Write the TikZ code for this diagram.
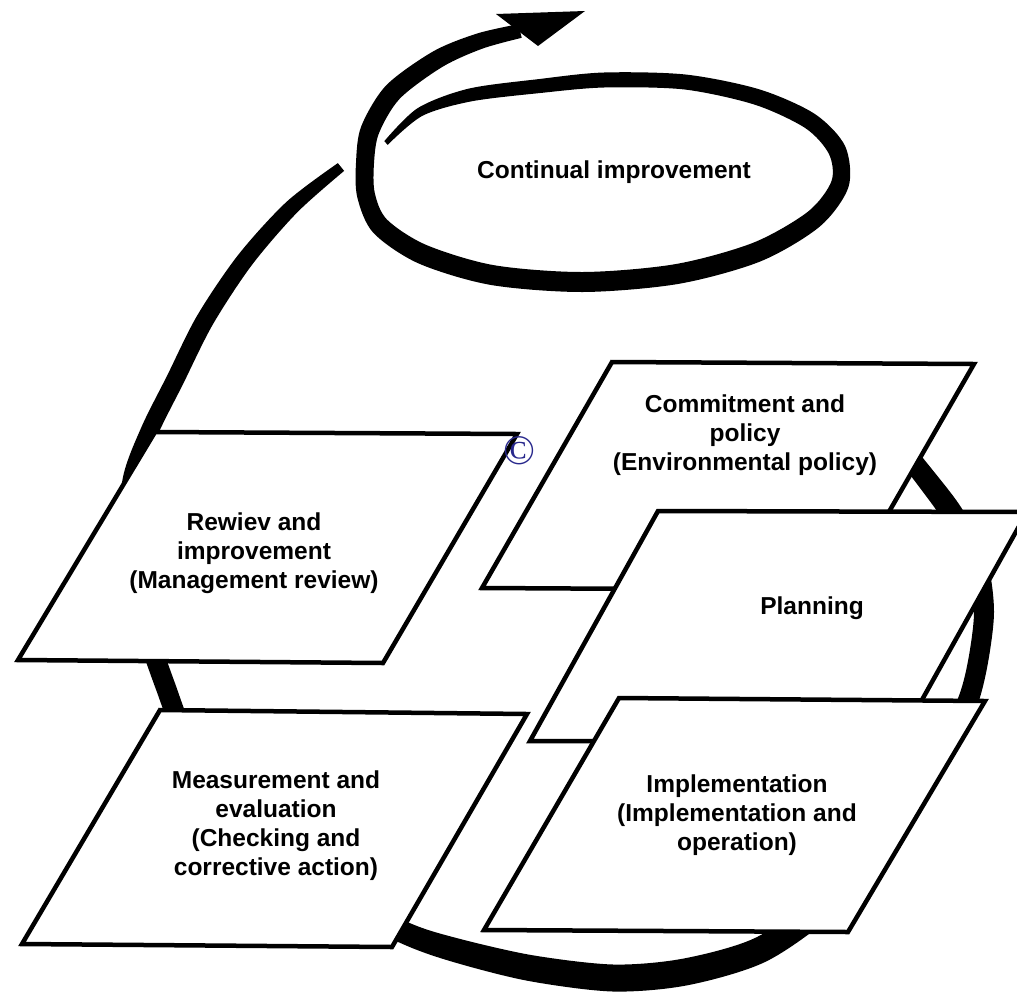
\documentclass[tikz,border=0pt]{standalone}
\usepackage{fontspec}
\setmainfont{Liberation Sans}
\newfontfamily\copyfont{Liberation Serif}
\usetikzlibrary{calc}
\definecolor{copyblue}{RGB}{40,40,140}
\tikzset{
  panel/.style={draw=black, fill=white, line width=4.5pt, line join=miter},
  boxtext/.style={font=\bfseries\fontsize{24.5}{29}\selectfont, align=center, inner sep=0pt},
  ribbon/.style={fill=black},
}
% offset points on both sides of a centre line: name, previous, this, next, half width
\newcommand\ribbonpt[5]{%
  \coordinate (ribtmp) at ($(#2)!#5!90:(#4)$);
  \coordinate (#1a) at ($(#3)+(ribtmp)-(#2)$);
  \coordinate (ribtmp) at ($(#2)!#5!-90:(#4)$);
  \coordinate (#1b) at ($(#3)+(ribtmp)-(#2)$);
}
\begin{document}
\begin{tikzpicture}[x=1pt,y=-1pt]
\useasboundingbox (0,0) rectangle (1017,991);
\clip (0,0) rectangle (1017,991);

% ---- big cycle band (behind the panels)
\foreach \i/\x/\y in {1/870/400,2/908/455,3/951/512,4/976/560,5/984/612,6/976/672,
  7/962/715,8/925/775,9/875/848,10/825/905,11/760/950,12/685/972,13/613/978,
  14/530/968,15/455/950,16/405/933,17/330/895,18/250/825,19/190/745,20/165/685,
  21/140/610,22/127/540,23/132/478,24/150/430,25/175/380,26/205/320,27/245/260,
  28/292/207,29/341/167}
  \coordinate (p\i) at (\x,\y);
\foreach \i/\p/\n/\w in {1/1/2/9,2/1/3/10,3/2/4/11,4/3/5/10.5,5/4/6/10,6/5/7/10,
  7/6/8/10.5,8/7/9/11,9/8/10/12,10/9/11/12.5,11/10/12/13,12/11/13/13.5,13/12/14/13.5,
  14/13/15/13,15/14/16/12,16/15/17/11,17/16/18/11,18/17/19/10,19/18/20/10,20/19/21/10,
  21/20/22/10,22/21/23/9.5,23/22/24/9,24/23/25/9,25/24/26/9,26/25/27/9,27/26/28/8.5,
  28/27/29/7.5,29/28/29/5}
  {\ribbonpt{p\i}{p\p}{p\i}{p\n}{\w pt}}
\fill[ribbon] plot[smooth] coordinates {(p1a)(p2a)(p3a)(p4a)(p5a)(p6a)(p7a)(p8a)(p9a)(p10a)
  (p11a)(p12a)(p13a)(p14a)(p15a)(p16a)(p17a)(p18a)(p19a)(p20a)(p21a)(p22a)(p23a)(p24a)
  (p25a)(p26a)(p27a)(p28a)(p29a)}
  -- plot[smooth] coordinates {(p29b)(p28b)(p27b)(p26b)(p25b)(p24b)(p23b)(p22b)(p21b)
  (p20b)(p19b)(p18b)(p17b)(p16b)(p15b)(p14b)(p13b)(p12b)(p11b)(p10b)(p9b)(p8b)(p7b)
  (p6b)(p5b)(p4b)(p3b)(p2b)(p1b)} -- cycle;

% ---- upper spiral: ellipse turning into the arrow
\foreach \i/\x/\y in {1/386/143,2/420/112,3/470/95,4/540/86,5/604/80,6/685/82,
  7/757/97,8/810/121,9/837/150,10/840/184,11/814/219,12/757/252,13/677/274,
  14/583/282,15/492/275,16/422/254,17/380/226,18/366/195,19/365/163,20/370/130,
  21/393/92,22/438/59,23/480/41,24/520/31}
  \coordinate (q\i) at (\x,\y);
\foreach \i/\p/\n/\w in {1/1/2/2.5,2/1/3/4.5,3/2/4/6.5,4/3/5/7,5/4/6/7.5,6/5/7/7.5,
  7/6/8/8,8/7/9/8.5,9/8/10/9,10/9/11/9,11/10/12/9.5,12/11/13/10,13/12/14/10,
  14/13/15/10,15/14/16/10,16/15/17/10,17/16/18/9.5,18/17/19/9,19/18/20/9,
  20/19/21/9.5,21/20/22/9.5,22/21/23/9,23/22/24/8,24/23/24/7}
  {\ribbonpt{q\i}{q\p}{q\i}{q\n}{\w pt}}
\fill[ribbon] plot[smooth] coordinates {(q1a)(q2a)(q3a)(q4a)(q5a)(q6a)(q7a)(q8a)(q9a)(q10a)
  (q11a)(q12a)(q13a)(q14a)(q15a)(q16a)(q17a)(q18a)(q19a)(q20a)(q21a)(q22a)(q23a)(q24a)}
  -- plot[smooth] coordinates {(q24b)(q23b)(q22b)(q21b)(q20b)(q19b)(q18b)(q17b)(q16b)(q15b)
  (q14b)(q13b)(q12b)(q11b)(q10b)(q9b)(q8b)(q7b)(q6b)(q5b)(q4b)(q3b)(q2b)(q1b)} -- cycle;
% arrow head
\coordinate (headA) at (496,14);
\coordinate (headTip) at (585,11);
\coordinate (headB) at (538,46);
\fill[ribbon] (headA) -- (headTip) -- (headB) -- cycle;

\node[boxtext] (cont) at (614,172) {Continual improvement};

% ---- panels
\draw[panel] (612,362) -- (974,364) -- (844,590) -- (482,588) -- cycle;
\draw[panel] (658,511) -- (1027,512) -- (899,741) -- (530,741) -- cycle;
\draw[panel] (619,698) -- (985,701) -- (848,932) -- (484,930) -- cycle;
\draw[panel] (155,432) -- (517,434) -- (383,663) -- (18,660) -- cycle;
\draw[panel] (160,710) -- (527,714) -- (392,947) -- (22,944) -- cycle;

\node[boxtext] (commit) at (745,435) {Commitment and\\policy\\(Environmental policy)};
\node[boxtext] (plan) at (812,608) {Planning};
\node[boxtext] (impl) at (737,815) {Implementation\\(Implementation and\\operation)};
\node[boxtext] (review) at (254,553) {Rewiev and\\improvement\\(Management review)};
\node[boxtext] (meas) at (276,826) {Measurement and\\evaluation\\(Checking and\\corrective action)};

\node[text=copyblue, inner sep=0pt, font=\copyfont\fontsize{42}{42}\selectfont] (copy) at (519,451) {©};
\end{tikzpicture}
\end{document}
